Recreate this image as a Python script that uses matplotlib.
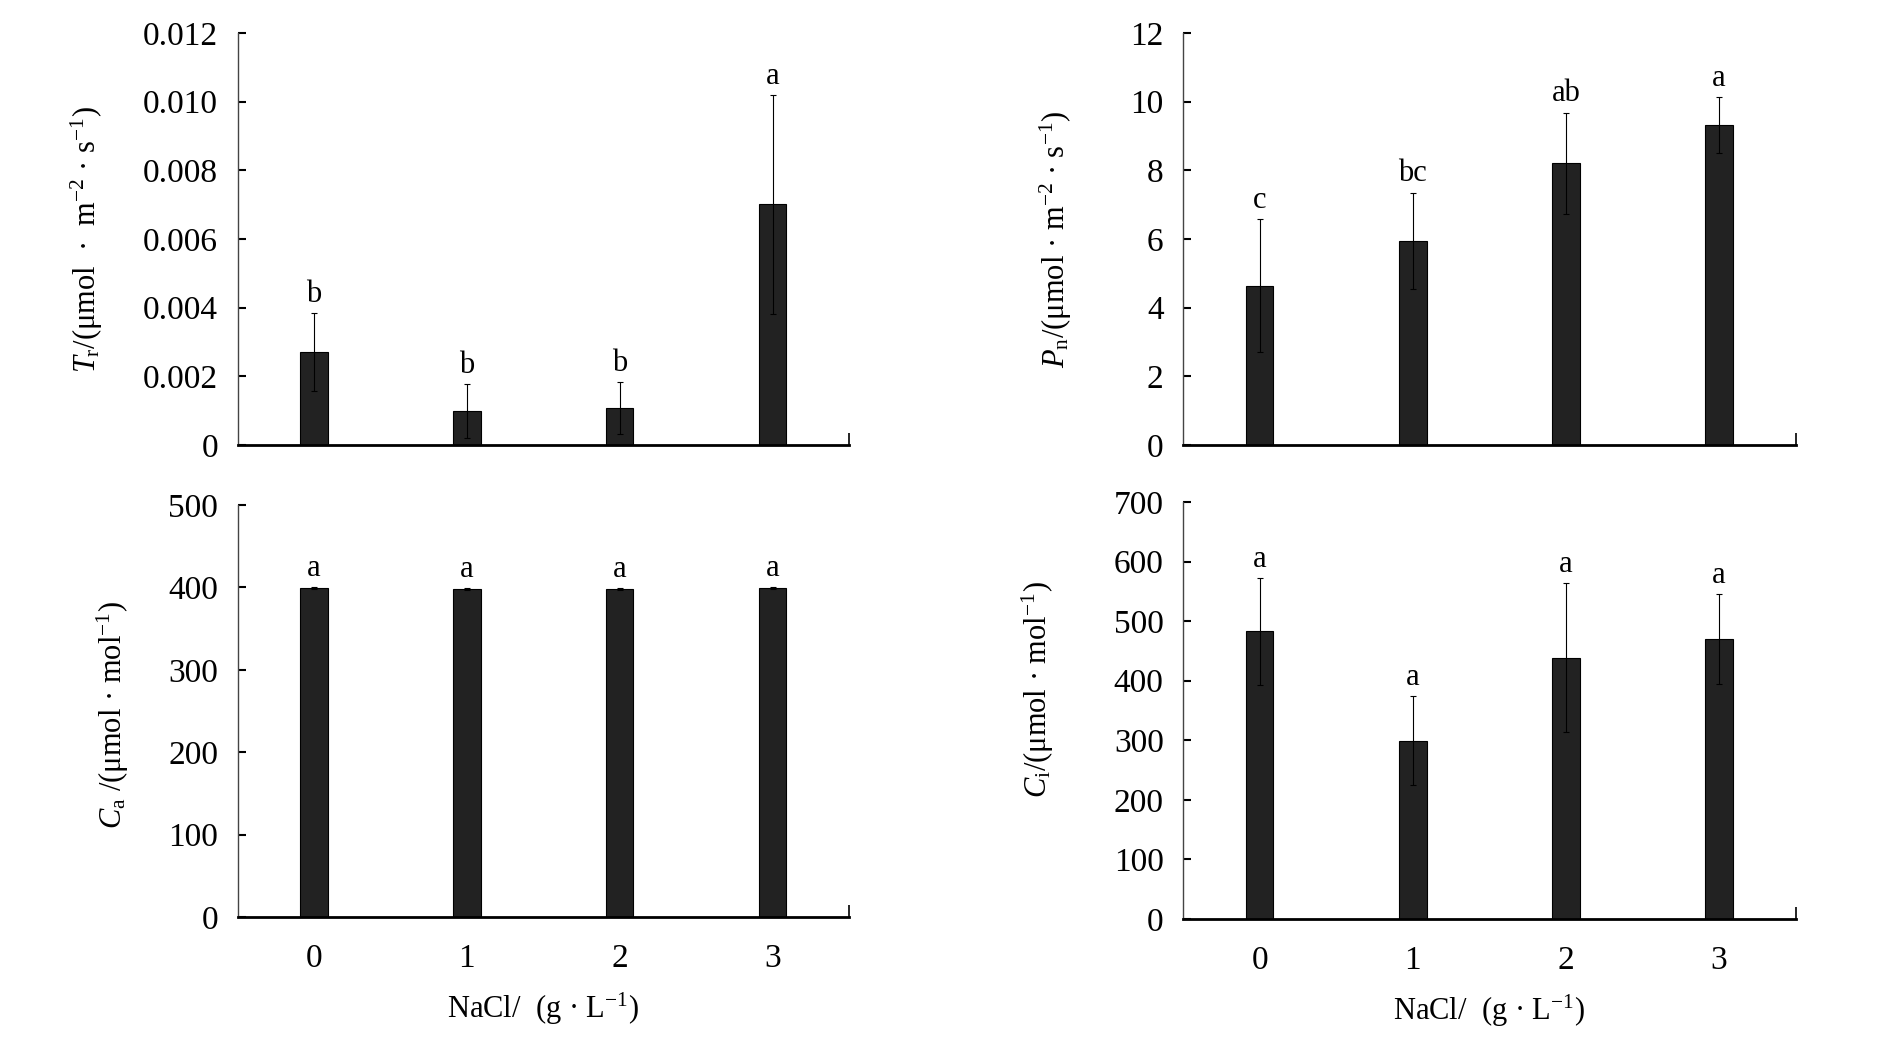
import numpy as np
import matplotlib
matplotlib.use('Agg')
import matplotlib.pyplot as plt
from matplotlib.ticker import FixedLocator, FuncFormatter

plt.rcParams['font.family'] = ['Liberation Serif', 'DejaVu Serif']
plt.rcParams['mathtext.fontset'] = 'custom'
plt.rcParams['mathtext.rm'] = 'Liberation Serif'
plt.rcParams['mathtext.it'] = 'Liberation Serif:italic'

nacl = ['0', '1', '2', '3']

tr_mean = [0.00271, 0.00100, 0.00108, 0.00701]
tr_err = [0.00113, 0.00078, 0.00075, 0.00318]
tr_sig = ['b', 'b', 'b', 'a']

pn_mean = [4.64, 5.94, 8.20, 9.32]
pn_err = [1.93, 1.41, 1.48, 0.82]
pn_sig = ['c', 'bc', 'ab', 'a']

ca_mean = [399.0, 397.6, 397.6, 399.0]
ca_err = [1.0, 1.0, 1.0, 1.0]
ca_sig = ['a', 'a', 'a', 'a']

ci_mean = [482.6, 299.6, 438.7, 469.8]
ci_err = [90.0, 75.0, 125.0, 75.0]
ci_sig = ['a', 'a', 'a', 'a']

fig = plt.figure(figsize=(18.9, 10.46), dpi=100)

panels = [
    # rect, mean, err, sig, ymax, step, ylabel, label x, label y, show x labels
    ([0.1257, 0.5745, 0.3235, 0.394], tr_mean, tr_err, tr_sig, 0.012, 0.002,
     r'$T_{\mathrm{r}}$/(μmol  ·  m$^{-2}$ · s$^{-1}$)', -0.217, 0.5, False),
    ([0.626, 0.5745, 0.324, 0.394], pn_mean, pn_err, pn_sig, 12, 2,
     r'$P_{\mathrm{n}}$/(μmol · m$^{-2}$ · s$^{-1}$)', -0.178, 0.5, False),
    ([0.1257, 0.1233, 0.3235, 0.394], ca_mean, ca_err, ca_sig, 500, 100,
     r'$C_{\mathrm{a}}$ /(μmol · mol$^{-1}$)', -0.175, 0.49, True),
    ([0.626, 0.1214, 0.324, 0.3987], ci_mean, ci_err, ci_sig, 700, 100,
     r'$C_{\mathrm{i}}$/(μmol · mol$^{-1}$)', -0.208, 0.55, True),
]

x = np.arange(len(nacl))

for rect, mean, err, sig, ymax, step, ylab, lx, ly, showx in panels:
    ax = fig.add_axes(rect)
    ax.bar(x, mean, width=0.18, color='#222222', edgecolor='black', linewidth=0.8, zorder=2)
    ax.errorbar(x, mean, yerr=err, fmt='none', ecolor='black', elinewidth=0.8,
                capsize=2, capthick=0.8, zorder=3)
    for xi, m, e, s in zip(x, mean, err, sig):
        ax.annotate(s, (xi, m + e), xytext=(0, 3), textcoords='offset points',
                    ha='center', va='bottom', fontsize=22)

    ax.set_xlim(-0.5, 3.5)
    ax.set_ylim(0, ymax)
    ticks = np.arange(0, ymax + step / 2, step)
    ax.yaxis.set_major_locator(FixedLocator(ticks))
    if ymax < 1:
        ax.yaxis.set_major_formatter(FuncFormatter(lambda v, p: '0' if abs(v) < 1e-12 else f'{v:.3f}'))
    else:
        ax.yaxis.set_major_formatter(FuncFormatter(lambda v, p: f'{v:.0f}'))
    ax.tick_params(axis='y', direction='in', length=6, width=1.5, pad=14, labelsize=24)

    ax.set_xticks(x)
    ax.set_xticks([3.5], minor=True)
    ax.tick_params(axis='x', which='major', length=0, pad=19, labelsize=24)
    ax.tick_params(axis='x', which='minor', direction='in', length=9, width=1.2)
    if showx:
        ax.set_xticklabels(nacl)
        ax.set_xlabel('NaCl/  (g · L$^{-1}$)', fontsize=22, labelpad=12)
    else:
        ax.set_xticklabels([])

    ax.spines['top'].set_visible(False)
    ax.spines['right'].set_visible(False)
    ax.spines['left'].set_linewidth(1.0)
    ax.spines['left'].set_color('#444444')
    ax.spines['bottom'].set_linewidth(2.0)

    ax.set_ylabel(ylab, fontsize=22)
    ax.yaxis.set_label_coords(lx, ly)

fig.savefig('out.png', dpi=100, facecolor='white')
